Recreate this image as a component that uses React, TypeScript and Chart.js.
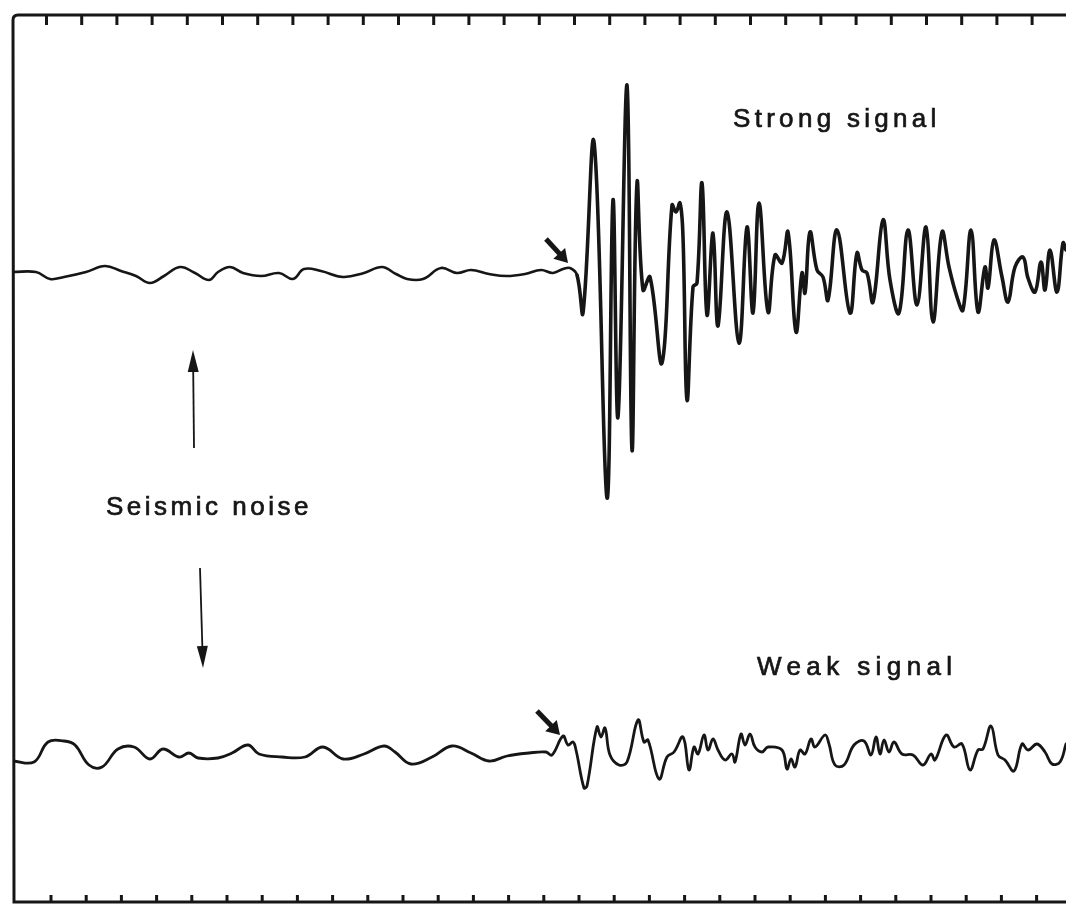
import React, { useEffect, useRef } from "react";
import { Chart, registerables } from "chart.js";

Chart.register(...registerables);

const W = 1066;
const H = 905;

// y values of the two trace baselines (trace amplitude is added to these)
const STRONG_BASE = 630;
const WEAK_BASE = 145;
const SIGNAL_ONSET_T = 562;

// Strong-signal trace: time (arbitrary units) and amplitude
const strongT = [
  0, 23, 37, 51, 73, 92, 108, 123, 137, 151,
  167, 182, 196, 205, 217, 230, 248, 266, 280, 291,
  308, 330, 351, 369, 383, 394, 410, 428, 444, 458,
  476, 494, 512, 528, 540, 550, 557, 564, 570, 581,
  594, 600, 605, 614, 619, 624, 630, 637, 649, 659,
  663, 667, 670, 674, 680, 684, 689, 694, 700, 705,
  714, 726, 734, 740, 746, 755, 762, 769, 775, 783,
  789, 792, 797, 804, 810, 815, 824, 837, 844, 849,
  854, 860, 870, 877, 886, 895, 904, 913, 920, 929,
  936, 944, 950, 958, 965, 972, 975, 981, 989, 995,
  1002, 1010, 1015, 1022, 1028, 1032, 1037, 1044, 1050, 1053,
];
const strongAmp = [
  0, 0, -7, -5, 0, 6, 1, -4, -11, -4,
  5, -1, -8, 0, 5, -1, -4, -1, -7, 3,
  1, -5, -1, 5, -2, -7, -7, 4, -1, 2,
  -2, -4, -2, 2, -1, 3, 4, -3, -41, 130,
  -226, 72, -145, 187, -178, 89, -18, -5, -91, 67,
  60, 69, 35, -128, -15, -11, 89, -43, 39, -54,
  60, -71, 45, -41, 69, -40, 17, 9, 40, -60,
  -1, -21, 40, 2, -5, -28, 42, -41, 19, 2,
  -1, -30, 52, -8, -41, 42, -33, 45, -50, 40,
  5, -25, -38, 42, -40, 5, -16, 32, -5, -30,
  5, 15, -6, -20, 10, -18, 22, -20, 29, 22,
];

// Weak-signal trace
const weakT = [
  0, 21, 35, 51, 62, 76, 89, 105, 121, 137,
  150, 166, 176, 185, 205, 219, 235, 246, 269, 292,
  310, 330, 351, 371, 382, 398, 419, 439, 458, 476,
  494, 516, 533, 539, 550, 555, 560, 563, 571, 574,
  584, 588, 592, 597, 606, 614, 625, 631, 635, 646,
  654, 661, 670, 676, 681, 685, 691, 695, 700, 705,
  712, 719, 722, 728, 732, 737, 742, 749, 755, 769,
  774, 778, 782, 787, 792, 798, 802, 812, 816, 822,
  831, 841, 851, 858, 863, 867, 871, 876, 881, 889,
  900, 910, 918, 922, 933, 941, 949, 957, 965, 970,
  978, 985, 992, 1001, 1009, 1015, 1024, 1032, 1039, 1047,
  1053,
];
const weakAmp = [
  -4, -5, 15, 16, 12, -8, -10, 8, 10, -2,
  8, 0, 4, -1, -1, 4, 12, 3, 0, 0,
  10, -2, 3, 11, 5, -7, 0, 11, 4, -4,
  1, 4, 5, 2, 21, 12, 15, 7, -31, -29,
  30, 20, 29, 2, -8, -5, 37, 15, 17, -22,
  0, 5, 20, -13, 10, 3, 22, 7, 18, 7,
  -3, 3, -5, 23, 12, 23, 10, 5, 10, 7,
  -12, -2, -10, 7, 3, 18, 10, 22, 13, -8,
  -8, 12, 16, 2, 20, 3, 17, 5, 15, 3,
  2, -8, 3, -3, 22, 10, 13, -13, 7, 8,
  31, 2, -3, -14, 13, 7, 13, 5, -7, -5,
  13,
];

// Frame tick marks (time units)
const TOP_TICK_START = 33.5;
const BOTTOM_TICK_START = 38;
const TICK_STEP = 35.2;
const TICK_COUNT = 29;

// Text annotations (data coordinates)
const labelTexts = ["Strong signal", "Seismic noise", "Weak signal"];
const labelT = [720, 93, 744];
const labelY = [775, 387, 227];
const labelSpacing = [4.3, 3.5, 5.4];

// Arrows: [tailT, tailY, tipT, tipY]
const noiseArrows = [
  [181, 454, 180, 552],
  [187, 334, 190, 234],
];
const onsetArrows = [
  [533, 663, 555, 639],
  [524, 191, 547, 167],
];

const INK = "#161616";

const framePlugin = {
  id: "seismoFrame",
  afterDatasetsDraw(chart: any) {
    const { ctx, chartArea, scales } = chart;
    const xs = scales.x;
    const ys = scales.y;
    const { left, right, top, bottom } = chartArea;
    ctx.save();
    ctx.strokeStyle = INK;
    ctx.fillStyle = INK;
    ctx.lineCap = "butt";

    // frame: top, left, bottom
    ctx.lineWidth = 3;
    ctx.beginPath();
    ctx.moveTo(right, top);
    ctx.lineTo(left + 5, top);
    ctx.quadraticCurveTo(left, top, left, top + 5);
    ctx.lineTo(left + 1, bottom);
    ctx.lineTo(right, bottom);
    ctx.stroke();

    // tick marks
    ctx.lineWidth = 3;
    for (let k = 0; k < TICK_COUNT; k++) {
      const xt = xs.getPixelForValue(TOP_TICK_START + k * TICK_STEP);
      ctx.beginPath();
      ctx.moveTo(xt, top);
      ctx.lineTo(xt, top + 10);
      ctx.stroke();
      const xb = xs.getPixelForValue(BOTTOM_TICK_START + k * TICK_STEP);
      ctx.beginPath();
      ctx.moveTo(xb, bottom);
      ctx.lineTo(xb, bottom - 7);
      ctx.stroke();
    }

    // labels
    ctx.font = '26px "Liberation Sans", Arial, sans-serif';
    ctx.textBaseline = "alphabetic";
    ctx.textAlign = "left";
    ctx.lineWidth = 0.7;
    labelTexts.forEach((txt, i) => {
      (ctx as any).letterSpacing = labelSpacing[i] + "px";
      const px = xs.getPixelForValue(labelT[i]);
      const py = ys.getPixelForValue(labelY[i]);
      ctx.fillText(txt, px, py);
      ctx.strokeText(txt, px, py);
    });
    (ctx as any).letterSpacing = "0px";

    const drawArrow = (a: number[], shaftW: number, headLen: number, headHalf: number) => {
      const x0 = xs.getPixelForValue(a[0]);
      const y0 = ys.getPixelForValue(a[1]);
      const x1 = xs.getPixelForValue(a[2]);
      const y1 = ys.getPixelForValue(a[3]);
      const dx = x1 - x0;
      const dy = y1 - y0;
      const len = Math.hypot(dx, dy);
      const ux = dx / len;
      const uy = dy / len;
      const bx = x1 - ux * headLen;
      const by = y1 - uy * headLen;
      ctx.lineWidth = shaftW;
      ctx.beginPath();
      ctx.moveTo(x0, y0);
      ctx.lineTo(bx + ux * 1, by + uy * 1);
      ctx.stroke();
      ctx.beginPath();
      ctx.moveTo(x1, y1);
      ctx.lineTo(bx - uy * headHalf, by + ux * headHalf);
      ctx.lineTo(bx + uy * headHalf, by - ux * headHalf);
      ctx.closePath();
      ctx.fill();
    };
    noiseArrows.forEach((a) => drawArrow(a, 1.8, 22, 5.5));
    onsetArrows.forEach((a) => drawArrow(a, 5, 13, 8));

    ctx.restore();
  },
};

export default function App() {
  const canvasRef = useRef<HTMLCanvasElement | null>(null);

  useEffect(() => {
    if (!canvasRef.current) return;
    const strongData = strongT.map((t, i) => ({ x: t, y: STRONG_BASE + strongAmp[i] }));
    const weakData = weakT.map((t, i) => ({ x: t, y: WEAK_BASE + weakAmp[i] }));
    const chart = new Chart(canvasRef.current, {
      type: "line",
      data: {
        datasets: [
          {
            label: "Strong signal",
            data: strongData,
            borderColor: INK,
            borderWidth: 3.6,
            tension: 0.4,
            pointRadius: 0,
            fill: false,
            borderJoinStyle: "round",
            borderCapStyle: "round",
            segment: {
              borderWidth: (c: any) => (c.p0.parsed.x < SIGNAL_ONSET_T ? 2.6 : 3.6),
            },
          },
          {
            label: "Weak signal",
            data: weakData,
            borderColor: INK,
            borderWidth: 2.8,
            tension: 0.4,
            pointRadius: 0,
            fill: false,
            borderJoinStyle: "round",
            borderCapStyle: "round",
          },
        ],
      },
      options: {
        animation: false,
        responsive: false,
        maintainAspectRatio: false,
        devicePixelRatio: 1,
        layout: { padding: { left: 13, top: 15, right: 0, bottom: 3 } },
        scales: {
          x: { type: "linear", min: 0, max: 1053, display: false },
          y: { type: "linear", min: 0, max: 887, display: false },
        },
        plugins: {
          legend: { display: false },
          tooltip: { enabled: false },
          title: { display: false },
        },
        events: [],
      },
      plugins: [framePlugin],
    });
    return () => chart.destroy();
  }, []);

  return (
    <div style={{ position: "absolute", left: 0, top: 0, width: W, height: H, background: "#fff" }}>
      <canvas ref={canvasRef} width={W} height={H} style={{ display: "block" }} />
    </div>
  );
}
